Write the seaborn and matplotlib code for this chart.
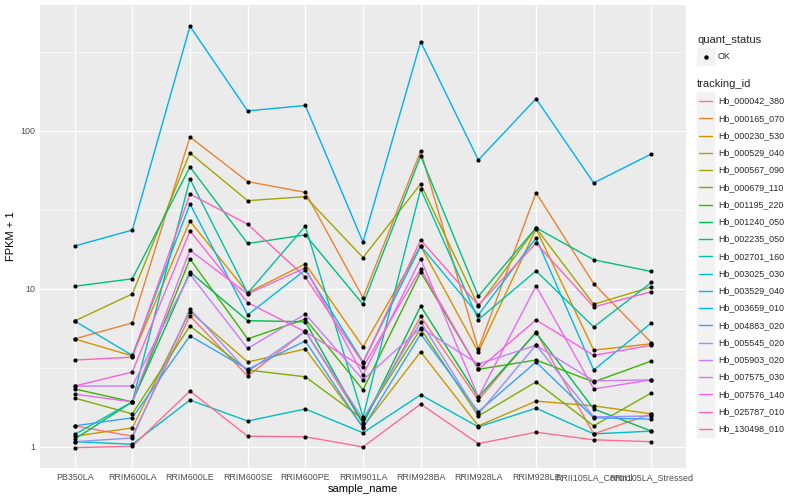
# expression plot - FPKM per sample for 20 Hb genes
import numpy as np
import pandas as pd
import matplotlib
matplotlib.use('Agg')
import matplotlib.pyplot as plt
import seaborn as sns
from matplotlib.patches import Rectangle
from matplotlib.lines import Line2D
from matplotlib.ticker import FixedLocator, NullFormatter

SAMPLES = ['PB350LA', 'RRIM600LA', 'RRIM600LE', 'RRIM600SE', 'RRIM600PE',
           'RRIM901LA', 'RRIM928BA', 'RRIM928LA', 'RRIM928LE',
           'RRII105LA_Control', 'RRII105LA_Stressed']

TRACKING_IDS = ['Hb_000042_380', 'Hb_000165_070', 'Hb_000230_530', 'Hb_000529_040',
                'Hb_000567_090', 'Hb_000679_110', 'Hb_001195_220', 'Hb_001240_050',
                'Hb_002235_050', 'Hb_002701_160', 'Hb_003025_030', 'Hb_003529_040',
                'Hb_003659_010', 'Hb_004883_020', 'Hb_005545_020', 'Hb_005903_020',
                'Hb_007575_030', 'Hb_007576_140', 'Hb_025787_010', 'Hb_130498_010']

# ggplot hue palette, 20 levels
COLORS = ['#F8766D', '#EA8331', '#D89000', '#C09B00', '#A3A500', '#7CAE00',
          '#39B600', '#00BB4E', '#00BF7D', '#00C1A3', '#00BFC4', '#00BAE0',
          '#00B0F6', '#35A2FF', '#9590FF', '#C77CFF', '#E76BF3', '#FA62DB',
          '#FF62BC', '#FF6C91']

# FPKM + 1, one value per sample (same order as SAMPLES)
hb_000042_380 = [1.36, 1.17, 6.75, 2.81, 5.4, 1.42, 6.7, 1.98, 5.35, 1.21, 1.62]
hb_000165_070 = [4.83, 6.1, 91.6, 47.8, 40.9, 8.8, 74.7, 4.17, 40.7, 10.8, 4.57]
hb_000230_530 = [4.83, 3.77, 26.9, 9.45, 14.4, 4.3, 18.7, 4.0, 24.0, 4.1, 4.5]
hb_000529_040 = [1.17, 1.32, 7.2, 3.45, 4.17, 1.34, 4.0, 1.36, 1.95, 1.82, 1.62]
hb_000567_090 = [6.27, 9.3, 72.6, 36.2, 38.4, 15.8, 46.2, 7.8, 24.3, 8.0, 10.3]
hb_000679_110 = [2.04, 1.62, 5.83, 3.07, 2.78, 1.5, 5.6, 1.57, 2.58, 1.36, 2.2]
hb_001195_220 = [2.33, 1.93, 15.5, 4.83, 6.45, 2.3, 12.8, 3.1, 3.55, 2.58, 3.5]
hb_001240_050 = [1.12, 1.93, 12.8, 6.3, 6.2, 1.4, 7.8, 2.07, 5.3, 1.74, 1.26]
hb_002235_050 = [10.4, 11.6, 59.2, 19.4, 22.0, 8.0, 69.5, 9.0, 24.4, 15.3, 12.9]
hb_002701_160 = [1.2, 1.93, 49.7, 9.4, 25.0, 1.55, 42.9, 6.4, 13.0, 5.75, 11.0]
hb_003025_030 = [1.08, 1.04, 1.98, 1.46, 1.74, 1.23, 2.14, 1.34, 1.76, 1.21, 1.26]
hb_003529_040 = [6.27, 3.8, 34.5, 6.85, 13.2, 3.45, 18.7, 6.85, 21.0, 3.07, 6.1]
hb_003659_010 = [18.7, 23.6, 460, 134, 145, 19.8, 367, 65.5, 160, 46.9, 71.5]
hb_004883_020 = [1.36, 1.53, 5.05, 3.1, 4.69, 1.32, 5.19, 1.67, 3.45, 1.53, 1.5]
hb_005545_020 = [1.08, 1.14, 7.47, 3.0, 5.4, 1.5, 6.2, 1.62, 4.42, 1.55, 1.57]
hb_005903_020 = [2.43, 2.43, 12.4, 4.2, 6.94, 2.66, 5.67, 3.35, 4.4, 2.62, 2.66]
hb_007575_030 = [2.16, 1.93, 17.6, 9.3, 13.6, 2.85, 15.5, 2.07, 10.45, 2.33, 2.66]
hb_007576_140 = [2.43, 2.98, 23.3, 8.2, 5.35, 3.2, 13.4, 3.1, 6.37, 3.8, 4.4]
hb_025787_010 = [3.55, 3.7, 39.9, 25.7, 11.9, 3.4, 20.4, 7.9, 19.5, 7.7, 9.6]
hb_130498_010 = [0.99, 1.01, 2.26, 1.17, 1.16, 1.0, 1.87, 1.05, 1.24, 1.11, 1.08]

SERIES = [hb_000042_380, hb_000165_070, hb_000230_530, hb_000529_040,
          hb_000567_090, hb_000679_110, hb_001195_220, hb_001240_050,
          hb_002235_050, hb_002701_160, hb_003025_030, hb_003529_040,
          hb_003659_010, hb_004883_020, hb_005545_020, hb_005903_020,
          hb_007575_030, hb_007576_140, hb_025787_010, hb_130498_010]

W, H = 800, 500


def fx(px):
    return px / W


def fy(py):
    return 1 - py / H


def main():
    rows = []
    for tid, vals in zip(TRACKING_IDS, SERIES):
        for s, v in zip(SAMPLES, vals):
            rows.append({'tracking_id': tid, 'sample_name': s, 'fpkm': v})
    df = pd.DataFrame(rows)

    sns.set_theme(style='darkgrid', rc={
        'axes.facecolor': '#EBEBEB',
        'grid.color': 'white',
        'axes.edgecolor': '#EBEBEB',
    })
    plt.rcParams['font.family'] = ['Liberation Sans', 'DejaVu Sans']

    fig = plt.figure(figsize=(8, 5), dpi=100)
    ax = fig.add_axes([fx(40), fy(468), (686 - 40) / W, (468 - 5) / H])

    sns.lineplot(data=df, x='sample_name', y='fpkm', hue='tracking_id',
                 hue_order=TRACKING_IDS, palette=COLORS, sort=False,
                 estimator=None, lw=1.0, legend=False, ax=ax)
    sns.scatterplot(data=df, x='sample_name', y='fpkm', color='black',
                    s=9, linewidth=0, legend=False, ax=ax, zorder=3)

    ax.set_yscale('log')
    ax.set_ylim(0.736, 627)
    ax.set_xlim(-0.6, len(SAMPLES) - 0.4)
    ax.yaxis.set_major_locator(FixedLocator([1, 10, 100]))
    ax.set_yticklabels(['1', '10', '100'])
    ax.yaxis.set_minor_locator(FixedLocator([10 ** 0.5, 10 ** 1.5, 10 ** 2.5]))
    ax.yaxis.set_minor_formatter(NullFormatter())
    ax.grid(which='major', color='white', lw=0.9)
    ax.grid(which='minor', axis='y', color='white', lw=0.45)
    for sp in ax.spines.values():
        sp.set_visible(False)

    ax.tick_params(which='major', length=2.2, width=0.6, color='#333333',
                   labelsize=6.4, labelcolor='#4D4D4D', pad=1.5)
    ax.tick_params(which='minor', length=0)
    ax.set_xlabel('sample_name', fontsize=8, color='black', labelpad=1)
    ax.set_ylabel('FPKM + 1', fontsize=8, color='black', labelpad=3)

    # legends, drawn by hand in ggplot style
    fig.text(fx(697), fy(40), 'quant_status', fontsize=8, va='center', ha='left')
    fig.patches.append(Rectangle((fx(697), fy(65)), 17 / W, 17 / H,
                                 transform=fig.transFigure, color='#F2F2F2'))
    fig.lines.append(Line2D([fx(705.5)], [fy(56.5)], transform=fig.transFigure,
                            marker='o', ms=2.2, color='black', lw=0))
    fig.text(fx(718), fy(56.5), 'OK', fontsize=6.4, va='center', ha='left')

    fig.text(fx(697), fy(84), 'tracking_id', fontsize=8, va='center', ha='left')
    for i, (tid, c) in enumerate(zip(TRACKING_IDS, COLORS)):
        yc = 101 + i * 17.25
        fig.patches.append(Rectangle((fx(697), fy(yc + 8.5)), 17 / W, 17 / H,
                                     transform=fig.transFigure, color='#F2F2F2'))
        fig.lines.append(Line2D([fx(699), fx(712)], [fy(yc), fy(yc)],
                                transform=fig.transFigure, color=c, lw=1.0))
        fig.text(fx(718), fy(yc), tid, fontsize=6.4, va='center', ha='left')

    fig.savefig('out.png', dpi=100)


if __name__ == '__main__':
    main()
